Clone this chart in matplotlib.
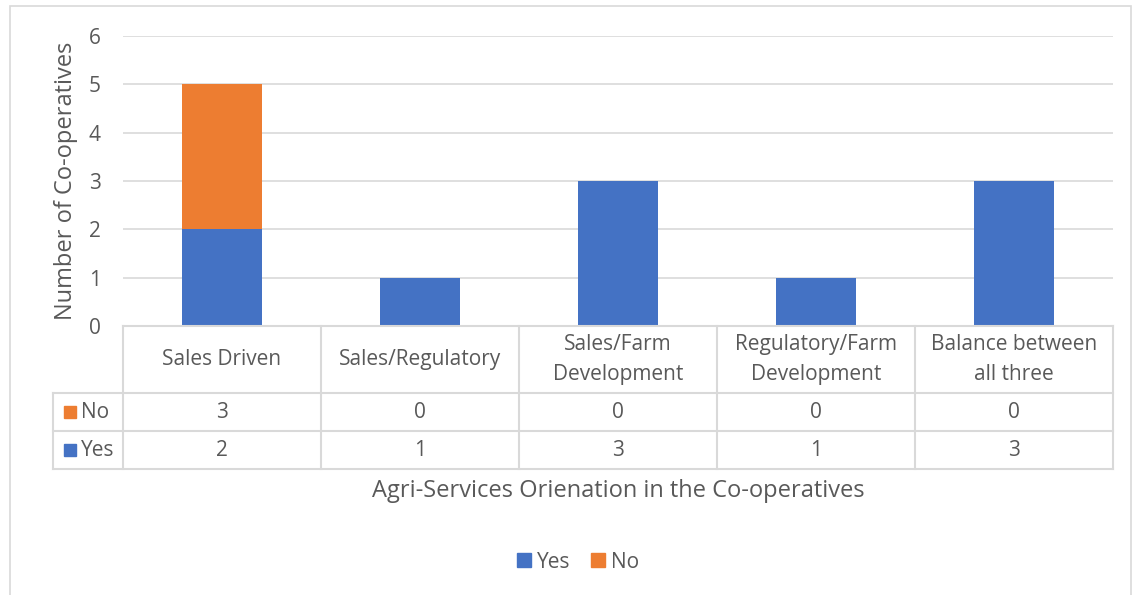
import matplotlib
matplotlib.use("Agg")
import matplotlib.pyplot as plt
from matplotlib.patches import Rectangle, Patch

# Agri-services orientation data
categories = ["Sales Driven", "Sales/Regulatory", "Sales/Farm\nDevelopment",
              "Regulatory/Farm\nDevelopment", "Balance between\nall three"]
yes_vals = [2, 1, 3, 1, 3]
no_vals = [3, 0, 0, 0, 0]
y_ticks = [0, 1, 2, 3, 4, 5, 6]

BLUE = "#4472c4"
ORANGE = "#ed7d31"
TXT = "#595959"
GRID = "#d9d9d9"

plt.rcParams["font.family"] = ["Open Sans", "DejaVu Sans"]

W, H = 1133, 595
fig = plt.figure(figsize=(W / 100, H / 100), dpi=100)


def fx(px):
    return px / W


def fy(py):
    return 1 - py / H


# outer chart border
fig.patches.append(Rectangle((fx(10), fy(600)), fx(1131) - fx(10), fy(6) - fy(600),
                             transform=fig.transFigure, fill=False,
                             edgecolor=GRID, lw=1.2))

# bar area
ax = fig.add_axes([fx(123), fy(326), fx(1113) - fx(123), fy(36) - fy(326)])
x = list(range(len(categories)))
ax.bar(x, yes_vals, width=0.4, color=BLUE, zorder=3)
ax.bar(x, no_vals, width=0.4, bottom=yes_vals, color=ORANGE, zorder=3)
ax.set_xlim(-0.5, len(categories) - 0.5)
ax.set_ylim(0, 6)
ax.set_yticks(y_ticks)
ax.set_xticks([])
ax.tick_params(axis="y", length=0, labelsize=15, labelcolor=TXT, pad=16)
ax.grid(axis="y", color=GRID, lw=1.2, zorder=0)
for s in ax.spines.values():
    s.set_visible(False)
ax.set_ylabel("Number of Co-operatives", fontsize=17, color=TXT, labelpad=8)

# data table below the bars (pixel y coords)
tb = fig.add_axes([fx(123), fy(470), fx(1113) - fx(123), fy(326) - fy(470)])
tb.set_xlim(-0.5, len(categories) - 0.5)
tb.set_ylim(470, 326)
tb.axis("off")
left_col = -0.5 - (123 - 53) / 198.0
rows = [326, 393, 431, 469]
n = len(categories)
lk = dict(color=GRID, lw=1.5, clip_on=False)
tb.plot([-0.5, n - 0.5], [rows[0], rows[0]], **lk)
for r in rows[1:]:
    tb.plot([left_col, n - 0.5], [r, r], **lk)
for i in range(n + 1):
    tb.plot([i - 0.5, i - 0.5], [rows[0], rows[-1]], **lk)
tb.plot([left_col, left_col], [rows[1], rows[-1]], **lk)

for i, c in enumerate(categories):
    tb.text(i, (rows[0] + rows[1]) / 2, c, ha="center", va="center",
            fontsize=15, color=TXT, linespacing=1.55)
    tb.text(i, (rows[1] + rows[2]) / 2 + 1, str(no_vals[i]), ha="center",
            va="center", fontsize=15, color=TXT)
    tb.text(i, (rows[2] + rows[3]) / 2 + 1, str(yes_vals[i]), ha="center",
            va="center", fontsize=15, color=TXT)

for (lab, col, r0, r1) in [("No", ORANGE, rows[1], rows[2]),
                           ("Yes", BLUE, rows[2], rows[3])]:
    ym = (r0 + r1) / 2
    fig.patches.append(Rectangle((fx(64), fy(ym + 6)), fx(12), fy(0) - fy(12),
                                 transform=fig.transFigure, color=col))
    fig.text(fx(81), fy(ym + 1), lab, ha="left", va="center",
             fontsize=15, color=TXT)

fig.text(fx(618), fy(491), "Agri-Services Orienation in the Co-operatives",
         ha="center", va="center", fontsize=17, color=TXT)

handles = [Patch(color=BLUE, label="Yes"), Patch(color=ORANGE, label="No")]
fig.legend(handles=handles, loc="center", bbox_to_anchor=(fx(578), fy(562)),
           ncol=2, frameon=False, fontsize=15, handlelength=0.65,
           handleheight=0.65, handletextpad=0.3, columnspacing=1.0,
           labelcolor=TXT)

fig.savefig("out.png", dpi=100)
